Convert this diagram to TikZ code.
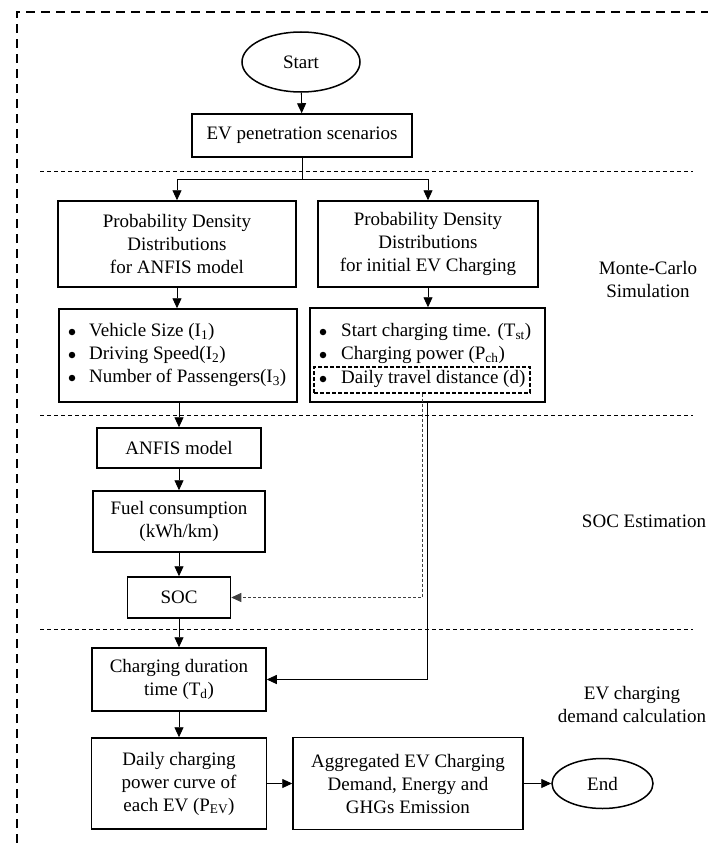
\documentclass[tikz,border=0pt]{standalone}
\usepackage{fontspec}
\setmainfont{Liberation Serif}
\usetikzlibrary{arrows.meta,shapes.geometric}
\begin{document}
\begin{tikzpicture}[x=1pt,y=-1pt,
  every node/.style={font=\fontsize{19}{23}\selectfont},
  box/.style={draw, line width=1.5pt, align=center, inner sep=0pt},
  oval/.style={draw, ellipse, line width=1.5pt, inner sep=0pt},
  arr/.style={line width=0.9pt, -{Triangle[length=10pt,width=9pt]}},
  lnk/.style={line width=0.9pt},
  sect/.style={line width=0.8pt, dash pattern=on 4pt off 3pt},
  frame/.style={line width=2.8pt, dash pattern=on 9pt off 6pt},
  item/.style={anchor=west, inner sep=0pt, text height=13pt, text depth=4pt},
  dot/.style={circle, fill=black, inner sep=0pt, minimum size=6.5pt},
  dbox/.style={draw, line width=1.3pt, dash pattern=on 4pt off 2pt, inner sep=0pt},
  route/.style={line width=0.8pt, draw=black!75, dash pattern=on 3pt off 2pt, -{Triangle[length=10pt,width=9pt]}}
]
\useasboundingbox (0,0) rectangle (708,843);

% outer dashed frame
\coordinate (fb) at (17,843);
\coordinate (fc) at (17,12);
\coordinate (fr) at (708,12);
\draw[frame] (fb) -- (fc) -- (fr);

% section separators
\coordinate (s1a) at (40,171); \coordinate (s1b) at (693,171);
\coordinate (s2a) at (40,415); \coordinate (s2b) at (693,415);
\coordinate (s3a) at (40,629); \coordinate (s3b) at (693,629);
\draw[sect] (s1a) -- (s1b);
\draw[sect] (s2a) -- (s2b);
\draw[sect] (s3a) -- (s3b);

% nodes
\node[oval, minimum width=118, minimum height=60] (start) at (301,62) {Start};
\node[box, minimum width=220, minimum height=43] (ev) at (302,135.5) {EV penetration scenarios};
\node[box, minimum width=238, minimum height=86] (pddl) at (177,244) {Probability Density\\Distributions\\for ANFIS model};
\node[box, minimum width=220, minimum height=86] (pddr) at (428,244) {Probability Density\\Distributions\\for initial EV Charging};
\node[box, minimum width=238, minimum height=93] (bl) at (178,355.5) {};
\node[box, minimum width=235, minimum height=94] (brx) at (427.5,355) {};

% left bullet list
\node[dot] (bl1d) at (72,332) {};
\node[dot] (bl2d) at (72,355) {};
\node[dot] (bl3d) at (72,378) {};
\node[item] (bl1) at (89,332) {Vehicle Size (I\textsubscript{1})};
\node[item] (bl2) at (89,355) {Driving Speed(I\textsubscript{2})};
\node[item] (bl3) at (89,378) {Number of Passengers(I\textsubscript{3})};

% right bullet list
\node[dbox, minimum width=216, minimum height=26] (dtd) at (422,380) {};
\node[dot] (br1d) at (323,332) {};
\node[dot] (br2d) at (323,355) {};
\node[dot] (br3d) at (323,379) {};
\node[item] (br1) at (341,332) {Start charging time. (T\textsubscript{st})};
\node[item] (br2) at (341,355) {Charging power (P\textsubscript{ch})};
\node[item] (br3) at (341,379) {Daily travel distance (d)};

\node[box, minimum width=164, minimum height=40] (anfis) at (179,448) {ANFIS model};
\node[box, minimum width=172, minimum height=61] (fuel) at (179,521.5) {Fuel consumption\\(kWh/km)};
\node[box, minimum width=103, minimum height=41] (soc) at (179,597.5) {SOC};
\node[box, minimum width=174, minimum height=63] (chg) at (179,679.5) {Charging duration\\time (T\textsubscript{d})};
\node[box, minimum width=175, minimum height=91] (daily) at (179,783.5) {Daily charging\\power curve of\\each EV (P\textsubscript{EV})};
\node[box, minimum width=230, minimum height=92] (agg) at (408,783.5) {Aggregated EV Charging\\Demand, Energy and\\GHGs Emission};
\node[oval, minimum width=101, minimum height=50] (end) at (602.5,783.5) {End};

% side labels
\node[align=center] (lmc) at (648,279) {Monte-Carlo\\Simulation};
\node (lsoc) at (644,521) {SOC Estimation};
\node[align=center] (lev) at (632,704) {EV charging\\demand calculation};

% connectors
\draw[arr] (start) -- (ev);
\coordinate (split) at (302,179);
\draw[lnk] (ev.south) -- (split);
\draw[arr] (split) -| (pddl.north);
\draw[arr] (split) -| (pddr.north);
\draw[arr] (pddl.south) -- (pddl.south |- bl.north);
\draw[arr] (pddr.south) -- (pddr.south |- brx.north);
\draw[arr] (bl.south -| anfis.north) -- (anfis.north);
\draw[arr] (anfis) -- (fuel);
\draw[arr] (fuel) -- (soc);
\draw[arr] (soc) -- (chg);
\draw[arr] (chg) -- (daily);
\draw[arr] (daily) -- (agg);
\draw[arr] (agg) -- (end);
\draw[route] (dtd.south) |- (soc.east);
\draw[arr] (brx.south) |- (chg.east);
\end{tikzpicture}
\end{document}
